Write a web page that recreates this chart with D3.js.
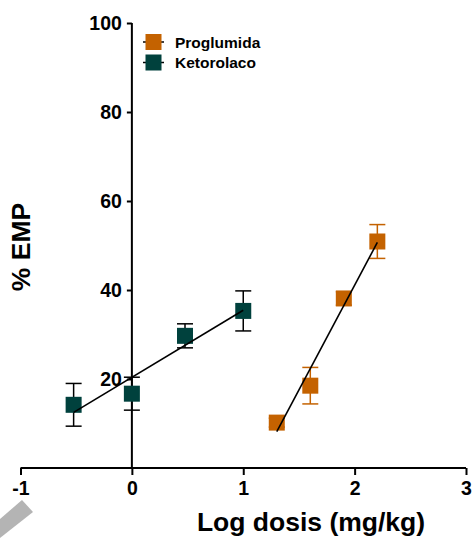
<!DOCTYPE html>
<html>
<head>
<meta charset="utf-8">
<script src="https://cdn.jsdelivr.net/npm/d3@7"></script>
<style>
  html, body { margin: 0; padding: 0; background: #fff; }
  svg { display: block; font-family: Arial, "Liberation Sans", Helvetica, sans-serif; }
</style>
</head>
<body>
<svg id="chart" width="472" height="538"></svg>
<script>
// ---- data ----
const seriesNames = ["Proglumida", "Ketorolaco"];
const proglumidaLogDose = [1.301, 1.602, 1.903, 2.204];
const proglumidaMean    = [10.2, 18.5, 38.1, 50.9];
const proglumidaSEM     = [1.0, 4.1, 1.5, 3.8];
const ketorolacoLogDose = [-0.523, 0.0, 0.477, 1.0];
const ketorolacoMean    = [14.2, 16.7, 29.7, 35.3];
const ketorolacoSEM     = [4.8, 3.7, 2.7, 4.5];
const xTicks = [-1, 0, 1, 2, 3];
const yTicks = [20, 40, 60, 80, 100];

const colors = { Proglumida: "#C46200", Ketorolaco: "#00413D" };
const errColors = { Proglumida: "#C46200", Ketorolaco: "#000000" };

const series = [
  { name: "Proglumida", x: proglumidaLogDose, y: proglumidaMean, e: proglumidaSEM },
  { name: "Ketorolaco", x: ketorolacoLogDose, y: ketorolacoMean, e: ketorolacoSEM }
];

const svg = d3.select("#chart");
const x = d3.scaleLinear().domain([-1, 3]).range([20.5, 466]);
const y = d3.scaleLinear().domain([0, 100]).range([468, 23]);

// watermark fragment (bottom-left)
svg.append("path")
  .attr("d", "M0,519 L22,500 L33,512 L0,538 Z")
  .attr("fill", "#b4b4b4");

// x axis at y=0
const xAxis = svg.append("g").attr("transform", `translate(0,${y(0)})`)
  .call(d3.axisBottom(x).tickValues(xTicks).tickSize(7).tickPadding(6).tickFormat(d => String(d)));
xAxis.select(".domain").attr("d", `M${x(-1)},0H${x(3)}`).attr("stroke", "#000").attr("stroke-width", 2);
xAxis.selectAll(".tick line").attr("stroke", "#000").attr("stroke-width", 2);
xAxis.selectAll(".tick text").attr("font-size", 19.5).attr("font-weight", "bold").attr("fill", "#000")
  .attr("font-family", "Arial, 'Liberation Sans', sans-serif");

// y axis at x=0
const yAxis = svg.append("g").attr("transform", `translate(${x(0)},0)`)
  .call(d3.axisLeft(y).tickValues(yTicks).tickSize(5).tickPadding(5).tickFormat(d => String(d)));
yAxis.select(".domain").attr("d", `M0,${y(0)}V${y(100)}`).attr("stroke", "#000").attr("stroke-width", 2);
yAxis.selectAll(".tick line").attr("stroke", "#000").attr("stroke-width", 2);
yAxis.selectAll(".tick text").attr("font-size", 19.5).attr("font-weight", "bold").attr("fill", "#000")
  .attr("font-family", "Arial, 'Liberation Sans', sans-serif");

// error bars
const capW = 8;
series.forEach(s => {
  const g = svg.append("g").attr("stroke", errColors[s.name]).attr("stroke-width", 1.5);
  s.x.forEach((xv, i) => {
    const top = y(s.y[i] + s.e[i]), bot = y(s.y[i] - s.e[i]), cx = x(xv);
    g.append("line").attr("x1", cx).attr("x2", cx).attr("y1", top).attr("y2", bot);
    g.append("line").attr("x1", cx - capW).attr("x2", cx + capW).attr("y1", top).attr("y2", top);
    g.append("line").attr("x1", cx - capW).attr("x2", cx + capW).attr("y1", bot).attr("y2", bot);
  });
});

// markers
const ms = 16;
series.forEach(s => {
  svg.append("g").selectAll("rect").data(s.x.map((xv, i) => [xv, s.y[i]])).join("rect")
    .attr("x", d => x(d[0]) - ms / 2).attr("y", d => y(d[1]) - ms / 2)
    .attr("width", ms).attr("height", ms)
    .attr("fill", colors[s.name]);
});

// linear regression lines
function fit(xs, ys) {
  const mx = d3.mean(xs), my = d3.mean(ys);
  const sxy = d3.sum(xs, (v, i) => (v - mx) * (ys[i] - my));
  const sxx = d3.sum(xs, v => (v - mx) * (v - mx));
  const b = sxy / sxx;
  return { b, a: my - b * mx };
}
const line = d3.line().x(d => x(d[0])).y(d => y(d[1]));
series.forEach(s => {
  const f = fit(s.x, s.y);
  const ext = d3.extent(s.x);
  svg.append("path")
    .attr("d", line(ext.map(v => [v, f.a + f.b * v])))
    .attr("fill", "none").attr("stroke", "#000").attr("stroke-width", 1.6);
});

// legend
const legend = svg.append("g");
seriesNames.forEach((n, i) => {
  const cy = 42 + i * 20.5;
  legend.append("line").attr("x1", 143).attr("x2", 164).attr("y1", cy).attr("y2", cy)
    .attr("stroke", "#000").attr("stroke-width", 1.5);
  legend.append("rect").attr("x", 153.5 - 8).attr("y", cy - 8).attr("width", 16).attr("height", 16)
    .attr("fill", colors[n]);
  legend.append("text").attr("x", 175).attr("y", cy + 5.5)
    .attr("font-size", 15.5).attr("font-weight", "bold").attr("fill", "#000").text(n);
});

// axis titles
svg.append("text").attr("x", 311).attr("y", 531).attr("text-anchor", "middle")
  .attr("font-size", 26.5).attr("font-weight", "bold").attr("fill", "#000")
  .text("Log dosis (mg/kg)");
svg.append("text").attr("transform", "translate(30,247) rotate(-90)").attr("text-anchor", "middle")
  .attr("font-size", 26.5).attr("font-weight", "bold").attr("fill", "#000")
  .text("% EMP");
</script>
</body>
</html>
